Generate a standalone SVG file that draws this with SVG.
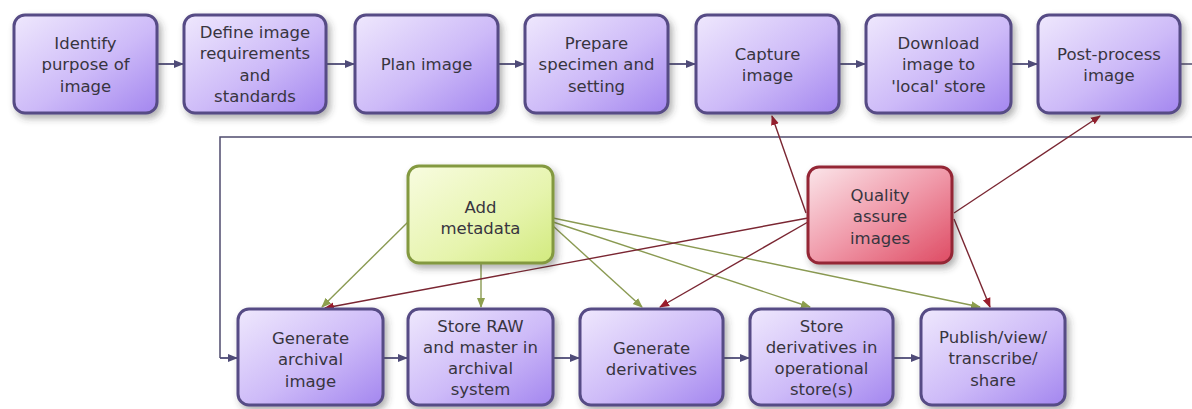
<svg xmlns="http://www.w3.org/2000/svg" width="1192" height="409" viewBox="0 0 1192 409">
<defs>
<linearGradient id="gp" x1="0" y1="0" x2="1" y2="1">
<stop offset="0" stop-color="#efe8fd"/>
<stop offset="0.55" stop-color="#cdbaf8"/>
<stop offset="1" stop-color="#a386ef"/>
</linearGradient>
<linearGradient id="gg" x1="0" y1="0" x2="1" y2="1">
<stop offset="0" stop-color="#f8fce0"/>
<stop offset="0.6" stop-color="#e6f4ad"/>
<stop offset="1" stop-color="#d2ea7e"/>
</linearGradient>
<linearGradient id="gr" x1="0" y1="0" x2="1" y2="1">
<stop offset="0" stop-color="#fbe6ea"/>
<stop offset="0.5" stop-color="#f09aaa"/>
<stop offset="1" stop-color="#de4b63"/>
</linearGradient>
<filter id="sh" x="-20%" y="-20%" width="150%" height="150%">
<feDropShadow dx="3" dy="4" stdDeviation="3.5" flood-color="#3a3a3a" flood-opacity="0.4"/>
</filter>
<marker id="ap" viewBox="0 0 10 10" refX="9" refY="5" markerWidth="10" markerHeight="10" markerUnits="userSpaceOnUse" orient="auto">
<path d="M0,1 L10,5 L0,9 Z" fill="#4f4b78"/>
</marker>
<marker id="ag" viewBox="0 0 10 10" refX="9" refY="5" markerWidth="10" markerHeight="10" markerUnits="userSpaceOnUse" orient="auto">
<path d="M0,1 L10,5 L0,9 Z" fill="#8ea04e"/>
</marker>
<marker id="ar" viewBox="0 0 10 10" refX="9" refY="5" markerWidth="10" markerHeight="10" markerUnits="userSpaceOnUse" orient="auto">
<path d="M0,1 L10,5 L0,9 Z" fill="#9a1c2c"/>
</marker>
</defs>
<style>
.p{fill:url(#gp);stroke:#574b85;stroke-width:3;filter:url(#sh)}
.g{fill:url(#gg);stroke:#83993f;stroke-width:3;filter:url(#sh)}
.r{fill:url(#gr);stroke:#942536;stroke-width:3;filter:url(#sh)}
text{font-family:"DejaVu Sans","Liberation Sans",sans-serif;font-size:16.5px;fill:#38353f;text-anchor:middle;dominant-baseline:central}
.cp{fill:none;stroke:#4f4b78;stroke-width:1.8;marker-end:url(#ap)}
.fb{fill:none;stroke:#4f4b6e;stroke-width:1.5}
.cg{fill:none;stroke:#8a9a52;stroke-width:1.4;marker-end:url(#ag)}
.cr{fill:none;stroke:#7a2632;stroke-width:1.4;marker-end:url(#ar)}
</style>
<rect width="1192" height="409" fill="#ffffff"/>
<g id="connectors">
<path class="cp" d="M158,64 H183"/>
<path class="cp" d="M326,64 H354"/>
<path class="cp" d="M498,64 H524"/>
<path class="cp" d="M668,64 H695"/>
<path class="cp" d="M839,64 H865"/>
<path class="cp" d="M1011,64 H1037"/>
<path class="fb" d="M1181,64 H1200"/>
<path class="fb" d="M1200,137 H220 V358"/>
<path class="cp" d="M220,358 H237"/>
<path class="cp" d="M383,358 H407"/>
<path class="cp" d="M553,358 H579"/>
<path class="cp" d="M723,358 H749"/>
<path class="cp" d="M893,358 H920"/>
<path class="cg" d="M408,222 L322,307"/>
<path class="cg" d="M481,264 L481,307"/>
<path class="cg" d="M553,226 L642,307"/>
<path class="cg" d="M553,222 L810,307"/>
<path class="cg" d="M553,218 L980,307"/>
<path class="cr" d="M806,213 L772,116"/>
<path class="cr" d="M954,213 L1100,116"/>
<path class="cr" d="M808,218 L325,308"/>
<path class="cr" d="M808,222 L660,307"/>
<path class="cr" d="M954,219 L990,307"/>
</g>
<g id="n1"><rect class="p" x="14" y="15" width="143" height="98" rx="11"/><text x="85.5" y="43">Identify</text><text x="85.5" y="64.5">purpose of</text><text x="85.5" y="86">image</text></g>
<g id="n2"><rect class="p" x="184" y="15" width="142" height="98" rx="11"/><text x="255" y="32">Define image</text><text x="255" y="53.5">requirements</text><text x="255" y="75">and</text><text x="255" y="96.5">standards</text></g>
<g id="n3"><rect class="p" x="355" y="15" width="143" height="98" rx="11"/><text x="426.5" y="64">Plan image</text></g>
<g id="n4"><rect class="p" x="525" y="15" width="143" height="98" rx="11"/><text x="596.5" y="43">Prepare</text><text x="596.5" y="64.5">specimen and</text><text x="596.5" y="86">setting</text></g>
<g id="n5"><rect class="p" x="696" y="15" width="143" height="98" rx="11"/><text x="767.5" y="54">Capture</text><text x="767.5" y="75.5">image</text></g>
<g id="n6"><rect class="p" x="866" y="15" width="145" height="98" rx="11"/><text x="938.5" y="43">Download</text><text x="938.5" y="64.5">image to</text><text x="938.5" y="86">'local' store</text></g>
<g id="n7"><rect class="p" x="1038" y="15" width="142" height="98" rx="11"/><text x="1109" y="54">Post-process</text><text x="1109" y="75.5">image</text></g>
<g id="n8"><rect class="g" x="408" y="166" width="145" height="97" rx="11"/><text x="480.5" y="207">Add</text><text x="480.5" y="228.5">metadata</text></g>
<g id="n9"><rect class="r" x="808" y="167" width="144" height="96" rx="11"/><text x="880" y="195">Quality</text><text x="880" y="216.5">assure</text><text x="880" y="238">images</text></g>
<g id="n10"><rect class="p" x="238" y="309" width="145" height="96" rx="11"/><text x="310.5" y="338">Generate</text><text x="310.5" y="359.5">archival</text><text x="310.5" y="381">image</text></g>
<g id="n11"><rect class="p" x="408" y="309" width="145" height="96" rx="11"/><text x="480.5" y="326.5">Store RAW</text><text x="480.5" y="347.5">and master in</text><text x="480.5" y="368.5">archival</text><text x="480.5" y="389.5">system</text></g>
<g id="n12"><rect class="p" x="580" y="309" width="143" height="96" rx="11"/><text x="651.5" y="348">Generate</text><text x="651.5" y="369.5">derivatives</text></g>
<g id="n13"><rect class="p" x="750" y="309" width="143" height="96" rx="11"/><text x="821.5" y="326.5">Store</text><text x="821.5" y="347.5">derivatives in</text><text x="821.5" y="368.5">operational</text><text x="821.5" y="389.5">store(s)</text></g>
<g id="n14"><rect class="p" x="921" y="309" width="144" height="96" rx="11"/><text x="993" y="337">Publish/view/</text><text x="993" y="358.5">transcribe/</text><text x="993" y="380">share</text></g>
</svg>
